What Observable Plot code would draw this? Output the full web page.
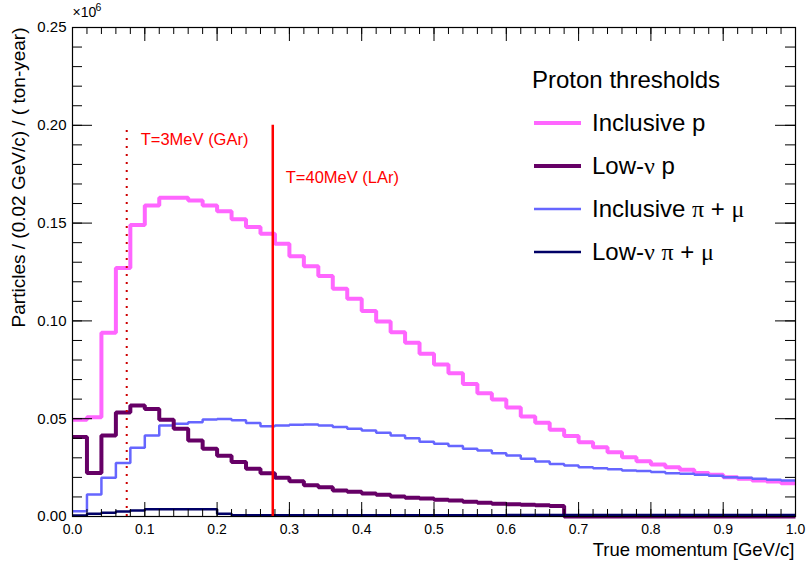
<!DOCTYPE html>
<html>
<head>
<meta charset="utf-8">
<script src="https://cdn.jsdelivr.net/npm/d3@7"></script>
<script src="https://cdn.jsdelivr.net/npm/@observablehq/plot@0.6"></script>
<style>
  body { margin: 0; background: white; }
  #wrap { position: relative; width: 806px; height: 565px; font-family: "Liberation Sans", Arial, Helvetica, sans-serif; }
  #wrap svg { position: absolute; left: 0; top: 0; }
  .legend { position: absolute; left: 532px; top: 58px; color: #000; }
  .legend .title { height: 43px; line-height: 43px; font-size: 24px; white-space: nowrap; }
  .legend .row { height: 43px; display: flex; align-items: center; font-size: 24px; white-space: nowrap; }
  .legend .sw { width: 47px; margin-left: 2px; margin-right: 11px; }
  .gr { font-family: "Liberation Serif", "DejaVu Serif", serif; }
</style>
</head>
<body>
<div id="wrap"></div>
<script>
// ---- data, bins of 0.02 GeV/c from 0 to 1 ----
const binLow = d3.range(50).map(i => +(i * 0.02).toFixed(2));
const xMax = 1.0;

// units: 10^6 particles / (0.02 GeV/c) / (ton-year)
const inclusiveP = [
  0.0494, 0.0508, 0.094, 0.127, 0.149, 0.159, 0.163, 0.163, 0.1616, 0.159,
  0.156, 0.152, 0.148, 0.1445, 0.1394, 0.133, 0.128, 0.1229, 0.1164, 0.1113,
  0.105, 0.0997, 0.0942, 0.0888, 0.0832, 0.0777, 0.0733, 0.0678, 0.063, 0.0598,
  0.0557, 0.0511, 0.0479, 0.0443, 0.0411, 0.038, 0.0354, 0.0329, 0.0303, 0.0283,
  0.0266, 0.0252, 0.0239, 0.0223, 0.0213, 0.0201, 0.0193, 0.0184, 0.0179, 0.017
];
const lowNuP = [
  0.0406, 0.0223, 0.0414, 0.0532, 0.0567, 0.055, 0.0494, 0.0448, 0.0389, 0.0346,
  0.031, 0.0278, 0.0244, 0.0221, 0.0198, 0.018, 0.016, 0.015, 0.0133, 0.0126,
  0.0118, 0.0111, 0.0102, 0.0096, 0.0092, 0.0085, 0.0082, 0.0075, 0.007, 0.0065,
  0.0063, 0.006, 0.0057, 0.0054, 0, 0, 0, 0, 0, 0,
  0, 0, 0, 0, 0, 0, 0, 0, 0, 0
];
const inclusivePiMu = [
  0.0027, 0.0112, 0.0198, 0.0273, 0.0351, 0.0414, 0.0465, 0.0474, 0.0482, 0.0496,
  0.0499, 0.0492, 0.0478, 0.0462, 0.0465, 0.0469, 0.047, 0.0465, 0.0457, 0.0448,
  0.044, 0.0428, 0.0414, 0.04, 0.0382, 0.0372, 0.0361, 0.0346, 0.0337, 0.0324,
  0.0312, 0.0295, 0.0281, 0.0269, 0.0261, 0.0252, 0.0247, 0.0242, 0.0235, 0.0232,
  0.0227, 0.0221, 0.0218, 0.0213, 0.0208, 0.0201, 0.0198, 0.0193, 0.0188, 0.0184
];
const lowNuPiMu = [
  0.0005, 0.0014, 0.0019, 0.0026, 0.0031, 0.0037, 0.0037, 0.0037, 0.0037, 0.0037,
  0.0014, 0.0006, 0.0006, 0.0006, 0.0006, 0.0006, 0.0006, 0.0006, 0.0006, 0.0006,
  0.0007, 0.0007, 0.0007, 0.0007, 0.0007, 0.0007, 0.0007, 0.0007, 0.0007, 0.0007,
  0.0008, 0.0008, 0.0008, 0.0008, 0.0008, 0.0008, 0.0008, 0.0008, 0.0008, 0.0008,
  0.0008, 0.0008, 0.0008, 0.0008, 0.0008, 0.0008, 0.0008, 0.0008, 0.0008, 0.0008
];

// threshold momenta (GeV/c)
const thresholdGAr = 0.075;
const thresholdLAr = 0.277;
const thresholdTop = 0.2;
const thresholdLabels = ["T=3MeV (GAr)", "T=40MeV (LAr)"];

// ticks
const xMajorTicks = [0, 0.1, 0.2, 0.3, 0.4, 0.5, 0.6, 0.7, 0.8, 0.9, 1.0];
const xMinorTicks = d3.range(51).map(i => +(i * 0.02).toFixed(2));
const yMajorTicks = [0, 0.05, 0.1, 0.15, 0.2, 0.25];
const yMinorTicks = d3.range(26).map(i => +(i * 0.01).toFixed(2));

const xTitle = "True momentum [GeV/c]";
const yTitle = "Particles / (0.02 GeV/c) / ( ton-year)";

// ---- layout ----
const W = 806, H = 565, mL = 72, mR = 11, mT = 27, mB = 49;
const pw = W - mL - mR, ph = H - mT - mB;
const font = '"Liberation Sans", Arial, Helvetica, sans-serif';

const steps = vals => [...vals.map((v, i) => ({x: binLow[i], y: v})), {x: xMax, y: vals[vals.length - 1]}];
const histLine = (vals, color, w) => Plot.line(steps(vals), {
  x: "x", y: "y", curve: "step-after", stroke: color, strokeWidth: w,
  strokeLinejoin: "miter", strokeLinecap: "butt"
});

const plot = Plot.plot({
  width: W, height: H,
  marginLeft: mL, marginRight: mR, marginTop: mT, marginBottom: mB,
  x: {domain: [0, 1]},
  y: {domain: [0, 0.25]},
  style: {fontFamily: font, background: "white", color: "black"},
  marks: [
    // histograms
    histLine(inclusiveP, "#ff66ff", 4),
    histLine(inclusivePiMu, "#6666ff", 2.5),
    histLine(lowNuP, "#660066", 4),
    histLine(lowNuPiMu, "#000066", 2.5),
    // threshold lines
    Plot.ruleX([thresholdGAr], {x: d => d, y1: 0, y2: thresholdTop, stroke: "#cc0000", strokeWidth: 2, strokeDasharray: "2,6"}),
    Plot.ruleX([thresholdLAr], {x: d => d, y1: 0, y2: thresholdTop, stroke: "#ff0000", strokeWidth: 2.5}),
    Plot.text([thresholdLabels[0]], {x: () => thresholdGAr, y: () => thresholdTop, text: d => d, dx: 14, dy: 14.5, textAnchor: "start", lineAnchor: "middle", fill: "#ff0000", fontSize: 16.5}),
    Plot.text([thresholdLabels[1]], {x: () => thresholdLAr, y: () => thresholdTop, text: d => d, dx: 13, dy: 52, textAnchor: "start", lineAnchor: "middle", fill: "#ff0000", fontSize: 16.5}),
    // frame
    Plot.frame({stroke: "black", strokeWidth: 1.2}),
    // y ticks (left & right, inward)
    Plot.ruleY(yMajorTicks, {y: d => d, insetRight: pw - 20, stroke: "black", strokeWidth: 1}),
    Plot.ruleY(yMinorTicks, {y: d => d, insetRight: pw - 10, stroke: "black", strokeWidth: 1}),
    Plot.ruleY(yMajorTicks, {y: d => d, insetLeft: pw - 20, stroke: "black", strokeWidth: 1}),
    Plot.ruleY(yMinorTicks, {y: d => d, insetLeft: pw - 10, stroke: "black", strokeWidth: 1}),
    // x ticks (bottom & top, inward)
    Plot.ruleX(xMajorTicks, {x: d => d, insetTop: ph - 14, stroke: "black", strokeWidth: 1}),
    Plot.ruleX(xMinorTicks, {x: d => d, insetTop: ph - 7, stroke: "black", strokeWidth: 1}),
    Plot.ruleX(xMajorTicks, {x: d => d, insetBottom: ph - 14, stroke: "black", strokeWidth: 1}),
    Plot.ruleX(xMinorTicks, {x: d => d, insetBottom: ph - 7, stroke: "black", strokeWidth: 1}),
    // tick labels
    Plot.axisY({ticks: yMajorTicks, tickSize: 0, tickPadding: 6, tickFormat: d3.format(".2f"), fontSize: 15, label: null}),
    Plot.axisX({ticks: xMajorTicks, tickSize: 0, tickPadding: 8, tickFormat: d3.format(".1f"), fontSize: 14, label: null}),
    // exponent
    Plot.text(["×10"], {frameAnchor: "top-left", text: d => d, textAnchor: "start", lineAnchor: "middle", dy: -15, fontSize: 14}),
    Plot.text(["6"], {frameAnchor: "top-left", text: d => d, textAnchor: "start", lineAnchor: "middle", dx: 23, dy: -20, fontSize: 10.5}),
    // axis titles
    Plot.text([xTitle], {frameAnchor: "bottom-right", text: d => d, textAnchor: "end", lineAnchor: "middle", dx: -1, dy: 34, fontSize: 18.5}),
    Plot.text([yTitle], {frameAnchor: "top-left", text: d => d, textAnchor: "end", lineAnchor: "middle", rotate: -90, dx: -54, dy: 0, fontSize: 19})
  ]
});

const wrap = document.getElementById("wrap");
wrap.appendChild(plot);

// legend
const legendTitle = "Proton thresholds";
const legendItems = [
  {label: 'Inclusive p', color: "#ff66ff", w: 4},
  {label: 'Low-<span class="gr">ν</span> p', color: "#660066", w: 4},
  {label: 'Inclusive <span class="gr">π</span> + <span class="gr">μ</span>', color: "#6666ff", w: 2.5},
  {label: 'Low-<span class="gr">ν</span> <span class="gr">π</span> + <span class="gr">μ</span>', color: "#000066", w: 2.5}
];
const lg = document.createElement("div");
lg.className = "legend";
lg.innerHTML = `<div class="title">${legendTitle}</div>` + legendItems.map(it =>
  `<div class="row"><svg class="sw" width="47" height="8" style="position:static"><line x1="0" x2="47" y1="4" y2="4" stroke="${it.color}" stroke-width="${it.w}"/></svg><span>${it.label}</span></div>`
).join("");
wrap.appendChild(lg);
</script>
</body>
</html>
